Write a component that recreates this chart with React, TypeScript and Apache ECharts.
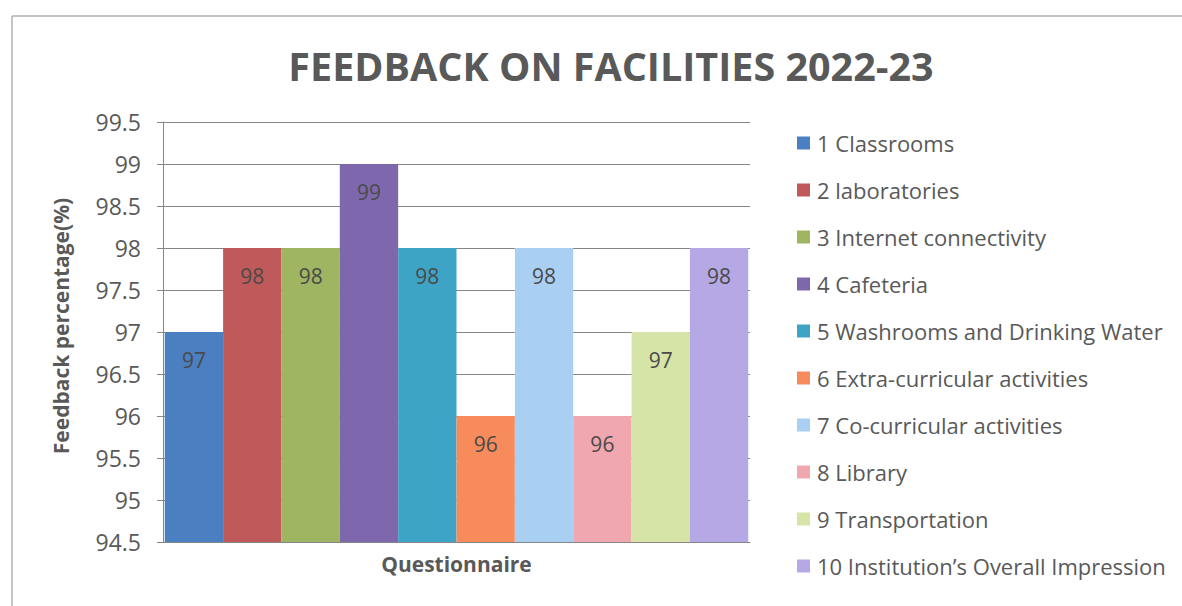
import React, { useEffect, useRef } from "react";
import * as echarts from "echarts";

const titleText = "FEEDBACK ON FACILITIES 2022-23";
const yAxisName = "Feedback percentage(%)";
const xAxisName = "Questionnaire";
const category = ["Questionnaire"];
const seriesNames = [
  "1 Classrooms",
  "2 laboratories",
  "3 Internet connectivity",
  "4 Cafeteria",
  "5 Washrooms and Drinking Water",
  "6 Extra-curricular activities",
  "7 Co-curricular activities",
  "8 Library",
  "9 Transportation",
  "10 Institution\u2019s Overall Impression",
];
const seriesValues = [97, 98, 98, 99, 98, 96, 98, 96, 97, 98];
const seriesColors = [
  "#4A7FC1",
  "#C0595A",
  "#A0B562",
  "#7F67AE",
  "#3EA4C6",
  "#F88B5B",
  "#A9CFF3",
  "#F1A7AF",
  "#D6E4A7",
  "#B5A8E4",
];
const yMin = 94.5;
const yMax = 99.5;
const yStep = 0.5;

const FONT = "'Open Sans', 'DejaVu Sans', sans-serif";
const TXT = "#595959";

export default function App() {
  const ref = useRef<HTMLDivElement>(null);
  useEffect(() => {
    if (!ref.current) return;
    const chart = echarts.init(ref.current, undefined, { renderer: "svg" });
    chart.setOption({
      animation: false,
      backgroundColor: "#ffffff",
      textStyle: { fontFamily: FONT },
      title: {
        text: titleText,
        left: 606,
        top: 41,
        textAlign: "center",
        textStyle: { fontFamily: FONT, fontSize: 39.5, fontWeight: "bold", color: TXT },
      },
      graphic: [
        { type: "line", shape: { x1: 12, y1: 16, x2: 1182, y2: 16 }, style: { stroke: "#b0b0b0", lineWidth: 1.5 } },
        { type: "line", shape: { x1: 12, y1: 16, x2: 12, y2: 606 }, style: { stroke: "#b0b0b0", lineWidth: 1.5 } },
        {
          type: "text",
          x: 61,
          y: 326,
          rotation: Math.PI / 2,
          style: {
            text: yAxisName,
            fontFamily: FONT,
            fontSize: 21,
            fontWeight: "bold",
            fill: TXT,
            align: "center",
            verticalAlign: "middle",
          },
        },
      ],
      legend: {
        orient: "vertical",
        left: 792,
        top: 127,
        itemWidth: 13,
        itemHeight: 13,
        itemGap: 25,
        icon: "rect",
        textStyle: { fontFamily: FONT, fontSize: 22, color: TXT, padding: [0, 0, 0, 2] },
        data: seriesNames,
      },
      grid: { left: 163, right: 432, top: 122, bottom: 64, containLabel: false },
      xAxis: {
        type: "category",
        data: category,
        name: xAxisName,
        nameLocation: "middle",
        nameGap: 11,
        nameTextStyle: { fontFamily: FONT, fontSize: 21, fontWeight: "bold", color: TXT },
        axisLabel: { show: false },
        axisTick: { show: false },
        axisLine: { show: true, lineStyle: { color: "#868686", width: 1 } },
      },
      yAxis: {
        type: "value",
        min: yMin,
        max: yMax,
        interval: yStep,
        axisLine: { show: true, lineStyle: { color: "#868686", width: 1 } },
        axisTick: { show: true, length: 6, lineStyle: { color: "#868686" } },
        axisLabel: { fontFamily: FONT, fontSize: 23, color: TXT, margin: 22 },
        splitLine: { show: true, lineStyle: { color: "#868686", width: 1 } },
      },
      series: seriesNames.map((name, i) => ({
        name,
        type: "bar",
        data: [seriesValues[i]],
        barGap: "0%",
        barCategoryGap: "0.6%",
        itemStyle: { color: seriesColors[i] },
        label: {
          show: true,
          position: "insideTop",
          distance: 17,
          fontFamily: FONT,
          fontSize: 21,
          color: "#4a4a4a",
        },
      })),
    });
    return () => chart.dispose();
  }, []);
  return (
    <div
      ref={ref}
      style={{ position: "fixed", left: 0, top: 0, width: 1182, height: 606 }}
    />
  );
}
